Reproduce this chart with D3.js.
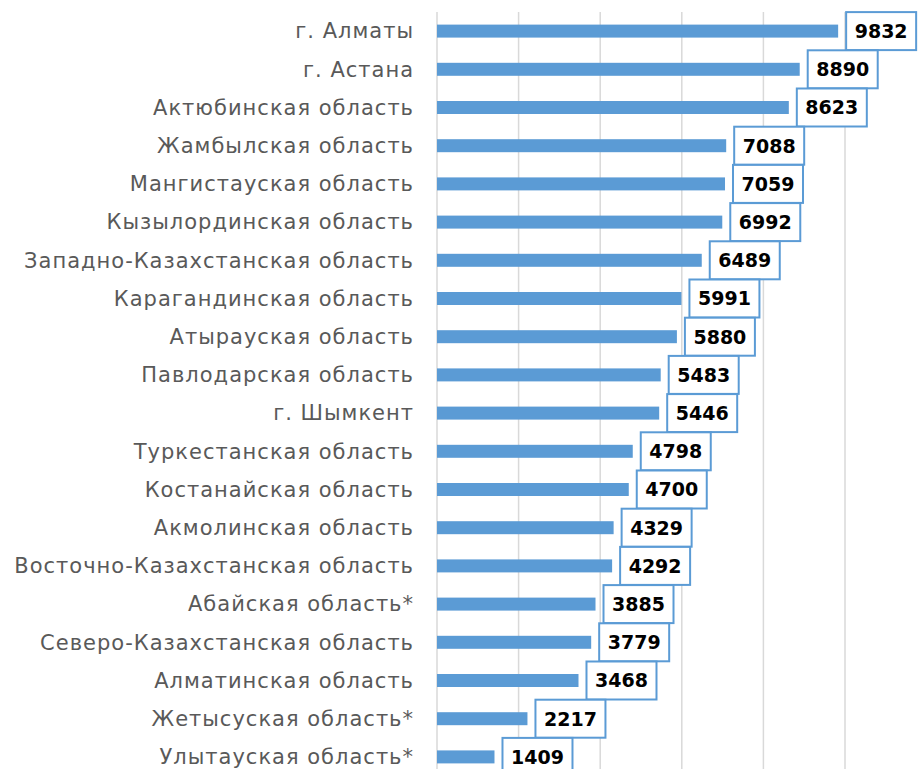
<!DOCTYPE html>
<html>
<head>
<meta charset="utf-8">
<script src="https://cdn.jsdelivr.net/npm/d3@7"></script>
<style>
  body { margin: 0; background: #fff; }
</style>
</head>
<body>
<div id="chart"></div>
<script>
// data
let regions = [
  "г. Алматы",
  "г. Астана",
  "Актюбинская область",
  "Жамбылская область",
  "Мангистауская область",
  "Кызылординская область",
  "Западно-Казахстанская область",
  "Карагандинская область",
  "Атырауская область",
  "Павлодарская область",
  "г. Шымкент",
  "Туркестанская область",
  "Костанайская область",
  "Акмолинская область",
  "Восточно-Казахстанская область",
  "Абайская область*",
  "Северо-Казахстанская область",
  "Алматинская область",
  "Жетысуская область*",
  "Улытауская область*"
];
let values = [9832, 8890, 8623, 7088, 7059, 6992, 6489, 5991, 5880, 5483,
              5446, 4798, 4700, 4329, 4292, 3885, 3779, 3468, 2217, 1409];
let grid_ticks = [0, 2000, 4000, 6000, 8000, 10000, 12000];

let width = 919,
    height = 769;

let svg = d3.select("#chart").append("svg")
  .attr("width", width)
  .attr("height", height);

// scales
let x = d3.scaleLinear().domain([0, 12000]).range([437, 926.6]);
let y = d3.scaleBand().domain(regions).range([12, 776]).paddingInner(0.66).paddingOuter(0.33);

// vertical gridlines
svg.selectAll(".grid").data(grid_ticks).enter().append("line")
  .attr("class", "grid")
  .attr("x1", d => x(d)).attr("x2", d => x(d))
  .attr("y1", 12).attr("y2", height)
  .style("stroke", "#d9d9d9")
  .style("stroke-width", 1.5);

// category labels
svg.selectAll(".label").data(regions).enter().append("text")
  .attr("class", "label")
  .attr("x", 414)
  .attr("y", d => y(d) + y.bandwidth() / 2)
  .attr("dy", "0.35em")
  .attr("text-anchor", "end")
  .style("font-family", "'DejaVu Sans', sans-serif")
  .style("font-size", "21px")
  .style("letter-spacing", "1px")
  .style("fill", "#595959")
  .text(d => d);

// bars
svg.selectAll(".bar").data(values).enter().append("rect")
  .attr("class", "bar")
  .attr("x", x(0))
  .attr("y", (d, i) => y(regions[i]))
  .attr("width", d => x(d) - x(0))
  .attr("height", y.bandwidth())
  .style("fill", "#5b9bd5");

// value boxes
let boxes = svg.selectAll(".vbox").data(values).enter().append("g")
  .attr("class", "vbox")
  .attr("transform", (d, i) => "translate(" + (x(d) + 8) + "," + (y(regions[i]) + y.bandwidth() / 2) + ")");

boxes.append("rect")
  .attr("x", 0).attr("y", -19)
  .attr("width", 70).attr("height", 38)
  .style("fill", "#fff")
  .style("stroke", "#5b9bd5")
  .style("stroke-width", 2);

boxes.append("text")
  .attr("x", 35).attr("y", 0)
  .attr("dy", "0.36em")
  .attr("text-anchor", "middle")
  .style("font-family", "'DejaVu Sans', sans-serif")
  .style("font-weight", "bold")
  .style("font-size", "19px")
  .style("fill", "#000")
  .text(d => d);
</script>
</body>
</html>
